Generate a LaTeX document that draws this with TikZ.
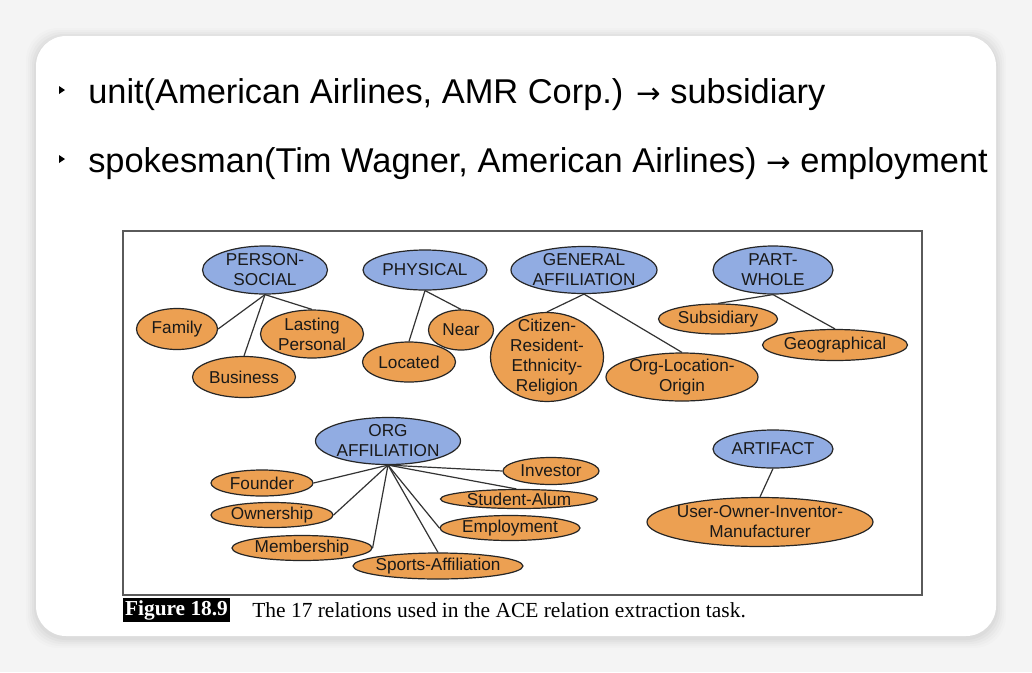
\documentclass[tikz,border=0pt]{standalone}
\usepackage{fontspec}
\setmainfont{Liberation Sans}
\newfontfamily\capserif{Liberation Serif}
\newfontfamily\arrowfont{DejaVu Sans}
\usetikzlibrary{shapes.geometric}
\definecolor{ellblue}{RGB}{145,172,226}
\definecolor{ellorange}{RGB}{236,160,82}
\definecolor{bggray}{RGB}{244,244,244}
\definecolor{framegray}{RGB}{90,90,90}
\tikzset{
  ellbase/.style={ellipse, draw=black!85, line width=0.9pt, inner sep=0pt},
  bluee/.style 2 args={ellbase, fill=ellblue, minimum width=#1*0.75pt, minimum height=#2*0.75pt},
  orangee/.style 2 args={ellbase, fill=ellorange, minimum width=#1*0.75pt, minimum height=#2*0.75pt},
  lbl/.style={align=center, inner sep=0pt, font=\fontsize{12.9pt}{15pt}\selectfont, text=black!90},
  conn/.style={draw=black!80, line width=0.9pt},
  bigtxt/.style={anchor=base west, inner sep=0pt, font=\fontsize{25.8pt}{29pt}\selectfont},
}
\newcommand{\rarr}{{\arrowfont\fontsize{22pt}{22pt}\selectfont →}}
\begin{document}
\begin{tikzpicture}[x=0.75pt, y=-0.75pt]
\useasboundingbox (0,0) rectangle (1032,672);
% background and card
\fill[bggray] (0,0) rectangle (1032,672);
\foreach \i/\o in {10/0.012,8/0.015,6/0.018,4/0.022,2/0.025}{
  \fill[black, opacity=\o, rounded corners=32*0.75pt] (36-\i,36-\i+2) rectangle (996+\i,636+\i+2);
}
\fill[white, rounded corners=30*0.75pt] (36,36) rectangle (996,636);
% bullets
\fill[black] (59,86) -- (65,90) -- (59,94) -- cycle;
\fill[black] (59,155) -- (65,159) -- (59,163) -- cycle;
\node[bigtxt] (l1) at (88,103) {unit(American Airlines, AMR Corp.) \rarr{} subsidiary};
\node[bigtxt] (l2) at (88,172) {spokesman(Tim Wagner, American Airlines) \rarr{} employment};
% frame
\draw[framegray, line width=0.9pt] (123,231) rectangle (922,595);
% top-level blue ellipses
\node[bluee={125}{48}] (ps) at (265,270) {};
\node[lbl] (pst) at (ps) {PERSON-\\SOCIAL};
\node[bluee={124}{40}] (phy) at (425,270) {};
\node[lbl] (phyt) at (phy) {PHYSICAL};
\node[bluee={146}{47}] (ga) at (584,270) {};
\node[lbl] (gat) at (ga) {GENERAL\\AFFILIATION};
\node[bluee={120}{48}] (pw) at (773,270) {};
\node[lbl] (pwt) at (pw) {PART-\\WHOLE};
\node[bluee={145}{47}] (org) at (388,441) {};
\node[lbl] (orgt) at (org) {ORG\\AFFILIATION};
\node[bluee={120}{38}] (art) at (773,449) {};
\node[lbl] (artt) at (art) {ARTIFACT};
% orange ellipses
\node[orangee={81}{41}] (fam) at (177,329) {};
\node[lbl] (famt) at (fam) {Family};
\node[orangee={103}{48}] (lp) at (312,334) {};
\node[lbl] (lpt) at (lp) {Lasting\\Personal};
\node[orangee={103}{41}] (bus) at (244,377) {};
\node[lbl] (bust) at (bus) {Business};
\node[orangee={65}{40}] (near) at (461,330) {};
\node[lbl] (neart) at (near) {Near};
\node[orangee={93}{40}] (loc) at (409,362) {};
\node[lbl] (loct) at (loc) {Located};
\node[orangee={113}{89}] (cit) at (547,357) {};
\node[lbl] (citt) at (cit) {Citizen-\\Resident-\\Ethnicity-\\Religion};
\node[orangee={152}{48}] (olo) at (682,377) {};
\node[lbl] (olot) at (olo) {Org-Location-\\Origin};
\node[orangee={119}{30}] (sub) at (718,319) {};
\node[lbl] (subt) at (sub) {Subsidiary};
\node[orangee={145}{31}] (geo) at (835,345) {};
\node[lbl] (geot) at (geo) {Geographical};
\node[orangee={102}{26}] (fou) at (262,483) {};
\node[lbl] (fout) at (fou) {Founder};
\node[orangee={122}{25}] (own) at (272,515) {};
\node[lbl] (ownt) at (own) {Ownership};
\node[orangee={140}{25}] (mem) at (302,548) {};
\node[lbl] (memt) at (mem) {Membership};
\node[orangee={170}{26}] (spo) at (438,566) {};
\node[lbl] (spot) at (spo) {Sports-Affiliation};
\node[orangee={96}{27}] (inv) at (551,471) {};
\node[lbl] (invt) at (inv) {Investor};
\node[orangee={157}{19}] (stu) at (519,499) {};
\node[lbl] (stut) at (stu) {Student-Alum};
\node[orangee={140}{25}] (emp) at (510,528) {};
\node[lbl] (empt) at (emp) {Employment};
\node[orangee={226}{49}] (uoim) at (760,522) {};
\node[lbl] (uoimt) at (uoim) {User-Owner-Inventor-\\Manufacturer};
% connectors
\draw[conn] (ps.south) -- (fam.east);
\draw[conn] (ps.south) -- (bus.north);
\draw[conn] (ps.south) -- (lp.north);
\draw[conn] (phy.south) -- (loc.north);
\draw[conn] (phy.south) -- (near.north);
\draw[conn] (ga.south) -- (cit.north);
\draw[conn] (ga.south) -- (olo.north);
\draw[conn] (pw.south) -- (sub.north);
\draw[conn] (pw.south) -- (geo.north);
\draw[conn] (org.south) -- (fou.east);
\draw[conn] (org.south) -- (own.east);
\draw[conn] (org.south) -- (mem.east);
\draw[conn] (org.south) -- (spo.north);
\draw[conn] (org.south) -- (emp.west);
\draw[conn] (org.south) -- (stu.105);
\draw[conn] (org.south) -- (inv.west);
\draw[conn] (art.south) -- (uoim.north);
% caption
\node[fill=black, text=white, inner sep=0pt, minimum width=107*0.75pt, minimum height=24*0.75pt, font=\capserif\bfseries\fontsize{16pt}{18pt}\selectfont] (figlab) at (176.5,610) {Figure 18.9};
\node[anchor=west, inner sep=0pt, font=\capserif\fontsize{16.1pt}{18pt}\selectfont] (cap) at (252,610) {The 17 relations used in the ACE relation extraction task.};
\end{tikzpicture}
\end{document}
